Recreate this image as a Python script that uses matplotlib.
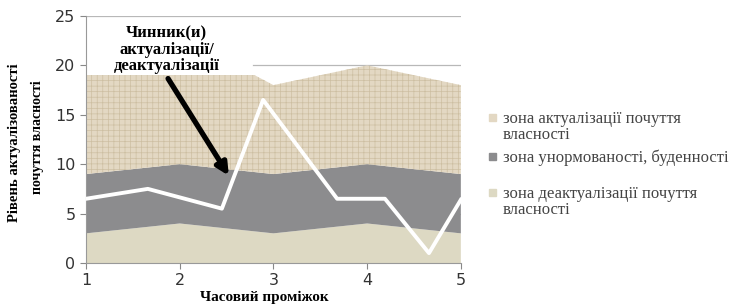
import matplotlib.pyplot as plt
import numpy as np

# time periods and stacked zone thicknesses
periods = [1, 2, 2.8, 3, 4, 5]
deact_zone = [3, 4, 3.2, 3, 4, 3]
norm_zone = [6, 6, 6, 6, 6, 6]
act_zone = [10, 9, 9.8, 9, 10, 9]

# factor line (white)
line_x = [1, 1.66, 2.45, 2.89, 3.68, 4.19, 4.66, 5]
line_y = [6.5, 7.5, 5.5, 16.5, 6.5, 6.5, 1.0, 6.4]

labels = ['зона актуалізації почуття\nвласності',
          'зона унормованості, буденності',
          'зона деактуалізації почуття\nвласності']
zone_colors = ['#e3d8c3', '#8c8c8e', '#ddd9c3']
xticks = [1, 2, 3, 4, 5]
yticks = [0, 5, 10, 15, 20, 25]

plt.rcParams['hatch.linewidth'] = 0.5
plt.rcParams['hatch.color'] = '#c8b99b'

fig = plt.figure(figsize=(7.35, 3.06), dpi=100)
ax = fig.add_axes([0.117, 0.1405, 0.51, 0.8075])

for y in yticks:
    # the 20 line is hidden behind the callout text on the left
    ax.axhline(y, xmin=0.445 if y == 20 else 0, color='#b8b8b8', lw=0.9, zorder=0)

ax.stackplot(periods, deact_zone, norm_zone, act_zone,
             colors=[zone_colors[2], zone_colors[1], zone_colors[0]], zorder=1)
# texture on top zone
lower = np.array(deact_zone) + np.array(norm_zone)
upper = lower + np.array(act_zone)
ax.fill_between(periods, lower, upper, facecolor='none', hatch='+++',
                edgecolor='#cdbfa2', lw=0, zorder=2)

ax.plot(line_x, line_y, color='white', lw=2.8, zorder=3)

ax.annotate('', xy=(2.54, 8.6), xytext=(1.86, 18.9),
            arrowprops=dict(arrowstyle='-|>,head_width=0.35,head_length=0.7',
                            color='black', lw=3.8), zorder=5)
ax.text(1.86, 21.6, 'Чинник(и)\nактуалізації/\nдеактуалізації',
        ha='center', va='center', fontsize=12, fontweight='bold',
        family='Liberation Serif', linespacing=1.0, zorder=4)

ax.set_xlim(1, 5)
ax.set_ylim(0, 25)
ax.set_xticks(xticks)
ax.set_yticks(yticks)
ax.tick_params(labelsize=11.5, length=4, color='#888888', labelcolor='#333333')
for s in ['top', 'right']:
    ax.spines[s].set_visible(False)
for s in ['left', 'bottom']:
    ax.spines[s].set_color('#999999')

ax.set_xlabel('Часовий проміжок', family='Liberation Serif', fontweight='bold',
              fontsize=11)
ax.xaxis.set_label_coords(0.477, -0.112)

fig.text(14 / 735, 1 - 143 / 306, 'Рівень актуалізованості', rotation=90,
         ha='center', va='center', family='Liberation Serif',
         fontweight='bold', fontsize=10.5)
fig.text(37 / 735, 1 - 137 / 306, 'почуття власності', rotation=90,
         ha='center', va='center', family='Liberation Serif',
         fontweight='bold', fontsize=10)

# legend built by hand to keep the uneven spacing
leg_tops = [111, 150, 186]
for lab, col, top in zip(labels, zone_colors, leg_tops):
    fig.patches.append(plt.Rectangle((489 / 735, 1 - (top + 10) / 306),
                                     7 / 735, 7 / 306, color=col,
                                     transform=fig.transFigure, figure=fig))
    fig.text(503 / 735, 1 - top / 306, lab, ha='left', va='top',
             family='Liberation Serif', fontsize=12, color='#444444',
             linespacing=1.0)

fig.savefig('out.png', dpi=100)
